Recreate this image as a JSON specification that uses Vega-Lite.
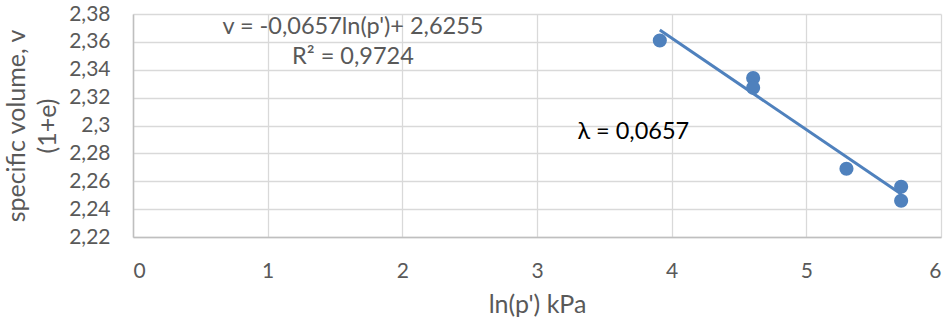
{
  "$schema": "https://vega.github.io/schema/vega-lite/v6.json",
  "width": 808,
  "height": 223,
  "autosize": {"type": "none"},
  "padding": {"left": 133, "top": 14, "right": 6, "bottom": 86},
  "background": "white",
  "config": {"view": {"stroke": null}, "font": "Lato", "axis": {"labelOverlap": false}},
  "datasets": {
    "pts": [
      {"lnp": 3.912, "v": 2.361},
      {"lnp": 4.605, "v": 2.334},
      {"lnp": 4.605, "v": 2.327},
      {"lnp": 5.298, "v": 2.269},
      {"lnp": 5.704, "v": 2.256},
      {"lnp": 5.704, "v": 2.246}
    ],
    "trend": [
      {"lnp": 3.912, "v": 2.3685},
      {"lnp": 5.704, "v": 2.2508}
    ],
    "notes": [
      {"label": "v = -0,0657ln(p')+ 2,6255", "lnp": 1.633, "v": 2.3707, "kind": "eq"},
      {"label": "R² = 0,9724", "lnp": 1.633, "v": 2.349, "kind": "eq"},
      {"label": "λ = 0,0657", "lnp": 3.30, "v": 2.2954, "kind": "lam"}
    ]
  },
  "encoding": {
    "x": {
      "field": "lnp", "type": "quantitative",
      "scale": {"domain": [0, 6], "nice": false, "zero": false},
      "axis": {
        "values": [0, 1, 2, 3, 4, 5, 6],
        "format": "d",
        "grid": true, "gridColor": "#d9d9d9", "gridWidth": 1.3,
        "domainColor": "#bfbfbf", "domainWidth": 1.5,
        "ticks": false, "labelOverlap": false,
        "labelFontSize": 21, "labelColor": "#595959", "labelPadding": 23,
        "title": "ln(p') kPa", "titleFontSize": 25, "titleColor": "#595959",
        "titleFontWeight": "normal", "titleBaseline": "middle", "titleY": 67,
        "titleX": 404
      }
    },
    "y": {
      "field": "v", "type": "quantitative",
      "scale": {"domain": [2.22, 2.38], "nice": false, "zero": false},
      "axis": {
        "values": [2.22, 2.24, 2.26, 2.28, 2.3, 2.32, 2.34, 2.36, 2.38],
        "labelExpr": "replace(format(datum.value, '.2~f'), '.', ',')",
        "grid": true, "gridColor": "#d9d9d9", "gridWidth": 1.3,
        "domainColor": "#bfbfbf", "domainWidth": 1.5,
        "ticks": false, "labelOverlap": false,
        "labelFontSize": 21, "labelColor": "#595959", "labelPadding": 23,
        "title": ["specific volume, v", "(1+e)"], "titleFontSize": 25,
        "titleColor": "#595959", "titleFontWeight": "normal",
        "titleAngle": -90, "titleAlign": "center", "titleBaseline": "middle",
        "titleLineHeight": 31, "titleX": -117, "titleY": 111.5
      }
    }
  },
  "layer": [
    {
      "data": {"name": "pts"},
      "mark": {"type": "point", "filled": true, "size": 200, "color": "#4F81BD", "opacity": 1}
    },
    {
      "data": {"name": "trend"},
      "mark": {"type": "line", "color": "#4F81BD", "strokeWidth": 3}
    },
    {
      "data": {"name": "notes"},
      "transform": [{"filter": "datum.kind == 'eq'"}],
      "mark": {"type": "text", "fontSize": 23.5, "color": "#595959", "align": "center", "baseline": "middle"},
      "encoding": {"text": {"field": "label"}}
    },
    {
      "data": {"name": "notes"},
      "transform": [{"filter": "datum.kind == 'lam'"}],
      "mark": {"type": "text", "fontSize": 23.5, "color": "#000000", "align": "left", "baseline": "middle"},
      "encoding": {"text": {"field": "label"}}
    }
  ]
}
